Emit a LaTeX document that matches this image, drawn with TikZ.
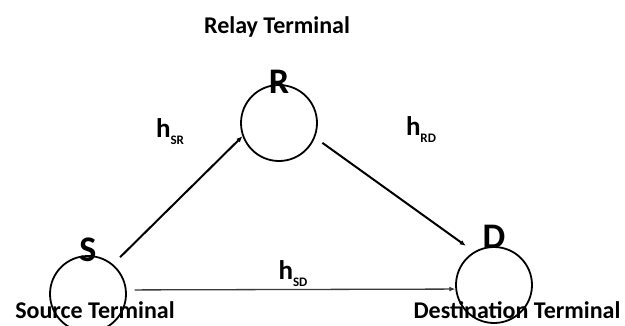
\documentclass[tikz,border=0pt]{standalone}
\usepackage{fontspec}
\setmainfont{Carlito}
\usetikzlibrary{arrows.meta,positioning}
\definecolor{linkgray}{HTML}{3A3A3A}
\newcommand{\chan}[1]{h\raisebox{-7pt}{\fontsize{13}{13}\selectfont #1}}
\tikzset{
  term/.style={draw, circle, line width=1.8pt, minimum size=76pt, inner sep=0pt},
  tname/.style={font=\fontsize{36}{40}\selectfont\bfseries, inner sep=0pt, anchor=base},
  tlbl/.style={font=\fontsize{24}{26}\selectfont\bfseries, inner sep=0pt, anchor=base},
  clbl/.style={font=\fontsize{27}{30}\selectfont\bfseries, inner sep=0pt},
  ar/.style={-{Latex[length=6pt,width=5pt]}, line width=2pt},
  arg/.style={ar, line width=1.3pt, draw=linkgray},
}
\begin{document}
\begin{tikzpicture}[x=1pt, y=-1pt]
    \useasboundingbox (0,0) rectangle (625,325);
    \fill[white] (0,0) rectangle (625,325);
    % terminals
    \node[term] (S) at (88,294) {};
    \node[term] (R) at (279,123) {};
    \node[term] (D) at (494,285) {};

    \node[tname] (sname) at (88,261) {S};
    \node[tname] (rname) at (279,93) {R};
    \node[tname] (dname) at (494,248) {D};

    \node[tlbl] (slbl) at (95,318) {Source Terminal};
    \node[tlbl] (rlbl) at (277,33) {Relay Terminal};
    \node[tlbl] (dlbl) at (517,318) {Destination Terminal};

    % channels
    \draw[ar, shorten <=10pt] (S.50) -- (R.200);
    \draw[ar, shorten <=9pt, shorten >=10pt] (R.-22) -- (D.121);
    \draw[arg, shorten <=8pt] (S.6) -- (D.186);

    \node[clbl] (hsr) at (170,132) {\chan{SR}};
    \node[clbl] (hrd) at (421,130) {\chan{RD}};
    \node[clbl] (hsd) at (293,274) {\chan{SD}};
\end{tikzpicture}
\end{document}
